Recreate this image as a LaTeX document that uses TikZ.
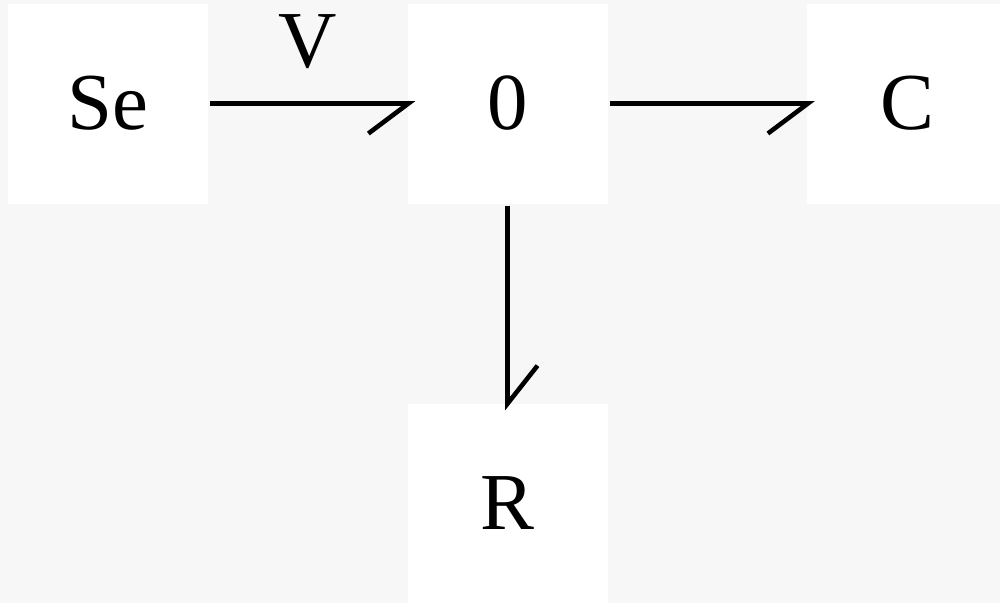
\documentclass[tikz,border=0pt]{standalone}
\usepackage{fontspec}
\setmainfont{Liberation Serif}
\usetikzlibrary{arrows.meta}
\definecolor{bgcol}{RGB}{247,247,247}
\begin{document}
\begin{tikzpicture}[font=\fontsize{23}{28}\selectfont, line width=1.3pt,
		elem/.style={fill=white, minimum size=2cm, inner sep=0pt},
		bondR/.style={-{Straight Barb[harpoon, swap, length=0.4cm, width=0.6cm, sharp]}, shorten >=-0.1cm},
		bondL/.style={-{Straight Barb[harpoon, length=0.38cm, width=0.6cm, sharp]}, shorten >=-0.09cm}]
				\fill[bgcol] (0,0) rectangle (10,-6.03);
				\useasboundingbox (0,0) rectangle (10,-6.03);
				\node[elem] (se) at (1.08,-1.035) {Se};
				\node[elem] (zero) at (5.075,-1.035) {0};
				\node[elem] (c) at (9.07,-1.035) {C};
				\node[elem] (r) at (5.075,-5.035) {R};
				\draw[bondR] (se) -- (zero) node[midway, above=0.32cm, inner sep=0pt] (v) {V};
				\draw[bondR] (zero) -- (c);
				\draw[bondL] (zero) -- (r);
			\end{tikzpicture}
\end{document}
